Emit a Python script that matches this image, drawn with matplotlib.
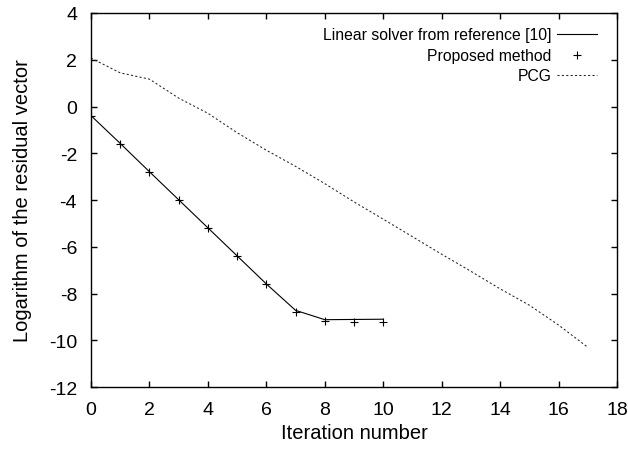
import matplotlib
matplotlib.use("Agg")
import matplotlib.pyplot as plt
from matplotlib.lines import Line2D

plt.rcParams['font.family'] = ['Liberation Sans', 'DejaVu Sans']
plt.rcParams['axes.unicode_minus'] = False

# Data
iters_solver = [0, 1, 2, 3, 4, 5, 6, 7, 8, 9, 10]
solver_vals = [-0.39, -1.58, -2.79, -3.99, -5.19, -6.39, -7.59, -8.72, -9.12, -9.11, -9.10]
iters_prop = [0, 1, 2, 3, 4, 5, 6, 7, 8, 9, 10]
prop_vals = [-0.40, -1.60, -2.80, -4.00, -5.20, -6.40, -7.60, -8.78, -9.18, -9.24, -9.24]
iters_pcg = [0, 1, 2, 3, 4, 5, 6, 7, 8, 9, 10, 11, 12, 13, 14, 15, 16, 17]
pcg_vals = [2.07, 1.44, 1.17, 0.36, -0.29, -1.12, -1.87, -2.56, -3.30, -4.08,
            -4.82, -5.57, -6.32, -7.05, -7.80, -8.50, -9.35, -10.30]
xticks = [0, 2, 4, 6, 8, 10, 12, 14, 16, 18]
yticks = [4, 2, 0, -2, -4, -6, -8, -10, -12]
labels = ["Linear solver from reference [10]", "Proposed method", "PCG"]

fig = plt.figure(figsize=(6.28, 4.56), dpi=100)
ax = fig.add_axes([0.1449, 0.1491, 0.8376, 0.8202])

dotted = (0, (2.0, 2.2))
ax.plot(iters_solver, solver_vals, color='black', lw=0.8)
ax.plot(iters_prop, prop_vals, linestyle='none', marker='+', ms=5.5, mew=0.8, color='black')
ax.plot(iters_pcg, pcg_vals, color='#222222', lw=0.75, linestyle=dotted)

ax.set_xlim(0, 18)
ax.set_ylim(-12, 4)
ax.set_xticks(xticks)
ax.set_yticks(yticks)
ax.tick_params(direction='in', length=4, width=1.0, top=True, right=True,
               labelsize=14, pad=10)
for s in ax.spines.values():
    s.set_linewidth(1.0)

ax.set_xlabel("Iteration number", fontsize=14.5, labelpad=4)
ax.set_ylabel("Logarithm of the residual vector", fontsize=14.5, labelpad=12)

# gnuplot-style legend: right-aligned text, sample on the right
rows_y = [3.1, 2.2, 1.33]
text_x = 15.77 / 18
s0, s1 = 15.95 / 18, 17.3 / 18
for lab, yv in zip(labels, rows_y):
    ax.text(text_x, (yv + 12) / 16, lab, transform=ax.transAxes, ha='right', va='center', fontsize=11.3)
ax.add_line(Line2D([s0, s1], [(rows_y[0] + 12) / 16] * 2, transform=ax.transAxes, color='black', lw=0.8))
ax.add_line(Line2D([(s0 + s1) / 2], [(rows_y[1] + 12) / 16], transform=ax.transAxes, color='black',
                   marker='+', ms=5.5, mew=0.8, linestyle='none'))
ax.add_line(Line2D([s0, s1], [(rows_y[2] + 12) / 16] * 2, transform=ax.transAxes, color='#222222', lw=0.75,
                   linestyle=dotted))

fig.savefig("out.png", dpi=100)
